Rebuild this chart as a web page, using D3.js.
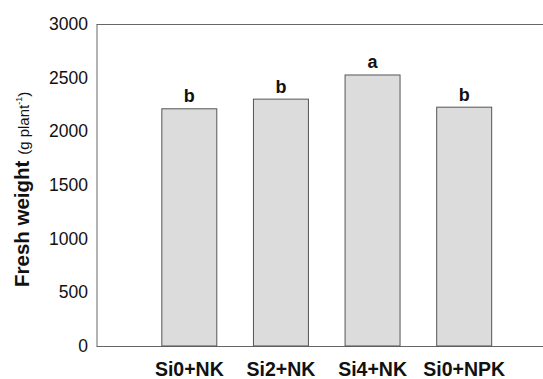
<!DOCTYPE html>
<html><head><meta charset="utf-8">
<script src="https://cdn.jsdelivr.net/npm/d3@7"></script>
<style>body{margin:0;background:#fff}svg{display:block}text{font-family:"Liberation Sans",Arial,sans-serif}</style>
</head><body><svg id="c" width="543" height="379"></svg>
<script>
const categories = ["Si0+NK","Si2+NK","Si4+NK","Si0+NPK"];
const values = [2210, 2300, 2525, 2225];
const letters = ["b","b","a","b"];
const yTicks = [0,500,1000,1500,2000,2500,3000];

const svg = d3.select("#c");
const L = 96.5, R = 543, T = 24, B = 346;
const y = d3.scaleLinear().domain([0,3000]).range([B,T]);
const x = d3.scaleBand().domain(categories).range([143.5, 510]).paddingInner(0.4).paddingOuter(0.2);

svg.append("line").attr("x1",L).attr("x2",R).attr("y1",T+0.5).attr("y2",T+0.5).attr("stroke","#666").attr("stroke-width",1);
const yAxis = d3.axisLeft(y).tickValues(yTicks).tickSize(0).tickPadding(8.5).tickFormat(d3.format("d"));
const ga = svg.append("g").attr("transform",`translate(${L},0)`).call(yAxis);
ga.attr("font-size",null).attr("font-family",null);
ga.select(".domain").attr("stroke","#666");
ga.selectAll("text").style("font-size","17.5px").attr("fill","#111");

const xAxis = d3.axisBottom(x).tickSize(0).tickPadding(16.5);
const gx = svg.append("g").attr("transform",`translate(0,${B})`).call(xAxis);
gx.attr("font-size",null).attr("font-family",null);
gx.select(".domain").attr("d",`M${L},0.5H${R}`).attr("stroke","#666");
gx.selectAll("text").style("font-size","19.5px").style("font-weight","bold").attr("fill","#111");

svg.selectAll("rect.bar").data(values).enter().append("rect").attr("class","bar")
  .attr("x",(d,i)=>x(categories[i])).attr("width",x.bandwidth())
  .attr("y",d=>y(d)).attr("height",d=>B-y(d))
  .attr("fill","#dcdcdc").attr("stroke","#555").attr("stroke-width",1);

svg.selectAll("text.lt").data(values).enter().append("text").attr("class","lt")
  .attr("x",(d,i)=>x(categories[i])+x.bandwidth()/2).attr("y",d=>y(d)-6.5)
  .attr("text-anchor","middle").style("font-size","18px").style("font-weight","bold").attr("fill","#111")
  .text((d,i)=>letters[i]);

const yl = svg.append("text").attr("transform","translate(29,287) rotate(-90)").attr("fill","#111");
yl.append("tspan").style("font-size","20.5px").style("font-weight","bold").text("Fresh weight ");
yl.append("tspan").style("font-size","15px").text("(g plant");
yl.append("tspan").style("font-size","9px").attr("dy","-7").text("-1");
yl.append("tspan").style("font-size","15px").attr("dy","7").text(")");
</script></body></html>
